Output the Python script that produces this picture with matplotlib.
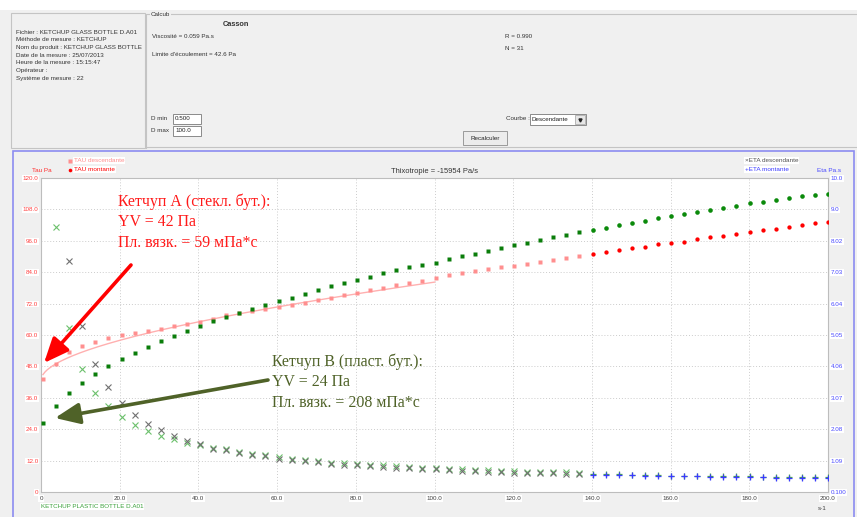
import matplotlib
matplotlib.use("Agg")
import matplotlib.pyplot as plt
from matplotlib.patches import Rectangle, FancyArrowPatch
import numpy as np

W, H = 857, 517

# shear rate grid (s-1)
shear_rate = [0.5, 3.8, 7.2, 10.5, 13.8, 17.1, 20.5, 23.8, 27.1, 30.4,
              33.8, 37.1, 40.4, 43.7, 47.1, 50.4, 53.7, 57.0, 60.4, 63.7,
              67.0, 70.3, 73.7, 77.0, 80.3, 83.6, 87.0, 90.3, 93.6, 96.9,
              100.3, 103.6, 106.9, 110.2, 113.6, 116.9, 120.2, 123.5, 126.9, 130.2,
              133.5, 136.8, 140.2, 143.5, 146.8, 150.1, 153.5, 156.8, 160.1, 163.4,
              166.8, 170.1, 173.4, 176.7, 180.1, 183.4, 186.7, 190.0, 193.4, 196.7,
              200.0]

# shear stress (Pa) - ketchup A (glass bottle)
tau_glass = [43.2, 49.0, 53.4, 55.9, 57.4, 58.7, 59.9, 60.8, 61.5, 62.3,
             63.4, 64.1, 65.0, 66.0, 67.5, 68.3, 69.3, 70.0, 70.7, 71.6,
             72.3, 73.2, 74.1, 75.3, 76.2, 77.1, 78.1, 79.1, 79.7, 80.7,
             81.6, 82.8, 83.6, 84.3, 85.2, 86.0, 86.4, 87.2, 87.9, 88.8,
             89.5, 90.2, 90.9, 91.7, 92.5, 93.1, 93.7, 94.6, 95.1, 95.6,
             96.7, 97.3, 97.9, 98.6, 99.4, 100.0, 100.6, 101.3, 102.0, 102.8,
             103.3]

# shear stress (Pa) - ketchup B (plastic bottle)
tau_plastic = [26.5, 32.7, 37.7, 41.7, 45.0, 48.0, 50.8, 53.1, 55.3, 57.6,
               59.5, 61.5, 63.4, 65.2, 66.7, 68.5, 69.9, 71.3, 72.9, 74.3,
               75.8, 77.1, 78.6, 79.9, 81.1, 82.3, 83.6, 84.8, 86.0, 86.9,
               87.6, 88.9, 90.2, 91.1, 92.1, 93.2, 94.3, 95.1, 96.2, 97.3,
               98.2, 99.2, 100.1, 101.0, 101.9, 102.7, 103.6, 104.6, 105.5, 106.4,
               107.0, 107.9, 108.7, 109.4, 110.3, 110.9, 111.6, 112.2, 113.1, 113.5,
               113.9]

# apparent viscosity (Pa.s); None = above the scale
eta_glass = [None, None, 7.39, 5.33, 4.15, 3.42, 2.92, 2.54, 2.24, 2.05,
             1.87, 1.70, 1.60, 1.47, 1.41, 1.34, 1.27, 1.22, 1.15, 1.11,
             1.07, 1.04, 0.99, 0.96, 0.94, 0.91, 0.90, 0.87, 0.85, 0.83,
             0.81, 0.79, 0.77, 0.75, 0.74, 0.73, 0.71, 0.70, 0.69, 0.69,
             0.68, 0.67, 0.65, 0.65, 0.64, 0.63, 0.62, 0.62, 0.60, 0.59,
             0.59, 0.58, 0.57, 0.57, 0.57, 0.56, 0.55, 0.55, 0.54, 0.54,
             0.54]
eta_plastic = [None, 8.45, 5.26, 3.98, 3.23, 2.80, 2.46, 2.22, 2.02, 1.88,
               1.76, 1.64, 1.58, 1.50, 1.44, 1.37, 1.31, 1.26, 1.19, 1.15,
               1.11, 1.08, 1.03, 1.00, 0.98, 0.95, 0.94, 0.91, 0.89, 0.87,
               0.85, 0.83, 0.81, 0.79, 0.78, 0.77, 0.75, 0.74, 0.73, 0.73,
               0.72, 0.71, 0.67, 0.67, 0.66, 0.65, 0.64, 0.64, 0.62, 0.61,
               0.61, 0.60, 0.59, 0.59, 0.59, 0.58, 0.57, 0.57, 0.56, 0.56,
               0.56]

# first point shown on the rising (montante) curve
montante_from = 42

# Casson model results
casson_tau0 = 42.6
casson_visc = 0.059
d_min, d_max = 0.5, 100.0

tau_ticks = [0, 12, 24, 36, 48, 60, 72, 84, 96, 108, 120]
tau_labels = ["0", "12.0", "24.0", "36.0", "48.0", "60.0", "72.0", "84.0",
              "96.0", "108.0", "120.0"]
eta_ticks = [0.1, 1.09, 2.08, 3.07, 4.06, 5.05, 6.04, 7.03, 8.02, 9.01, 10.0]
eta_labels = ["0.100", "1.09", "2.08", "3.07", "4.06", "5.05", "6.04", "7.03",
              "8.02", "9.0", "10.0"]
x_ticks = [0, 20, 40, 60, 80, 100, 120, 140, 160, 180, 200]
x_labels = ["0", "20.0", "40.0", "60.0", "80.0", "100.0", "120.0", "140.0",
            "160.0", "180.0", "200.0"]

UI = "Liberation Sans"
PINK, RED = "#ff8f8f", "#ff0000"
DKGREEN = "#0a7d0a"
GRAY_X, LTGREEN_X = "#707070", "#6cc06c"
BLUE, GREEN_P = "#3a3aff", "#4aa64a"
OLIVE = "#4f6228"

fig = plt.figure(figsize=(W / 100, H / 100), dpi=100, facecolor="#f0f0f0")

# ---- window background / dialog panel ----
bg = fig.add_axes([0, 0, 1, 1], zorder=0)
bg.set_xlim(0, W)
bg.set_ylim(H, 0)
bg.axis("off")
bg.add_patch(Rectangle((0, 0), W, 10, facecolor="white", edgecolor="none"))
bg.add_patch(Rectangle((11, 13), 134, 135, facecolor="#f0f0f0", edgecolor="#c4c4c4", lw=0.8))
bg.plot([146, 146, W], [148, 14, 14], color="#c4c4c4", lw=0.8)
bg.plot([146, W], [147, 147], color="#c4c4c4", lw=0.8)
bg.text(151, 14.5, "Calcub", fontsize=4.5, family=UI, color="#333333", va="center",
        bbox=dict(facecolor="#f0f0f0", edgecolor="none", pad=0.5))

info = ["Fichier : KETCHUP GLASS BOTTLE D.A01", "Méthode de mesure : KETCHUP",
        "Nom du produit : KETCHUP GLASS BOTTLE", "Date de la mesure : 25/07/2013",
        "Heure de la mesure : 15:15:47", "Opérateur :", "Système de mesure : 22"]
for k, line in enumerate(info):
    bg.text(16, 32 + 7.7 * k, line, fontsize=4.5, family=UI, color="#333333", va="center")

bg.text(236, 24, "Casson", fontsize=5.3, family=UI, weight="bold", color="#333333",
        ha="center", va="center")
bg.text(152, 36.5, f"Viscosité = {casson_visc:.3f} Pa.s", fontsize=4.5, family=UI,
        color="#333333", va="center")
bg.text(152, 54, f"Limite d'écoulement = {casson_tau0:.1f} Pa", fontsize=4.5, family=UI,
        color="#333333", va="center")
bg.text(505, 37, "R = 0.990", fontsize=4.5, family=UI, color="#333333", va="center")
bg.text(505, 48, "N = 31", fontsize=4.5, family=UI, color="#333333", va="center")

bg.text(151, 119, "D min", fontsize=4.5, family=UI, color="#333333", va="center")
bg.text(151, 131, "D max", fontsize=4.5, family=UI, color="#333333", va="center")
for yb, txt in [(114, f"{d_min:.3f}"), (126, f"{d_max:.1f}")]:
    bg.add_patch(Rectangle((173, yb), 28, 10, facecolor="white", edgecolor="#8a8a8a", lw=0.7))
    bg.text(175, yb + 5, txt, fontsize=4.5, family=UI, color="#222222", va="center")

bg.text(506, 118.5, "Courbe :", fontsize=4.5, family=UI, color="#333333", va="center")
bg.add_patch(Rectangle((530, 114), 56, 10.5, facecolor="white", edgecolor="#8a8a8a", lw=0.7))
bg.add_patch(Rectangle((575, 115), 10, 8.5, facecolor="#e6e6e6", edgecolor="#a0a0a0", lw=0.5))
bg.plot([580], [119.5], marker="v", ms=2.2, color="#222222")
bg.text(532, 119.3, "Descendante", fontsize=4.5, family=UI, color="#222222", va="center")
bg.add_patch(Rectangle((463, 131), 44, 14, facecolor="#ececec", edgecolor="#9a9a9a", lw=0.7))
bg.text(485, 138, "Recalculer", fontsize=4.5, family=UI, color="#222222",
        ha="center", va="center")

# chart panel frame
bg.add_patch(Rectangle((13, 151), 841, 370, facecolor="#f0f0f0", edgecolor="#8c8cf0", lw=1.2))

# ---- main chart ----
L, R, T, B = 41, 828, 178, 492
ax = fig.add_axes([L / W, 1 - B / H, (R - L) / W, (B - T) / H], zorder=2)
ax.set_facecolor("white")
ax.set_xlim(0, 200)
ax.set_ylim(0, 120)
ax.set_xticks(x_ticks, labels=x_labels)
ax.set_yticks(tau_ticks, labels=tau_labels)
ax.tick_params(axis="x", length=0, pad=3, labelsize=4.5, labelcolor="#404040")
ax.tick_params(axis="y", length=0, pad=2, labelsize=4.5, labelcolor="#ff4040")
for lab in ax.get_xticklabels() + ax.get_yticklabels():
    lab.set_fontfamily(UI)
    lab.set_bbox(dict(facecolor="white", edgecolor="none", pad=0.6))
ax.grid(True, color="#cccccc", linestyle=(0, (1, 2)), linewidth=0.7)
for side, sp in ax.spines.items():
    sp.set_color("#bdbdbd")
    sp.set_linewidth(0.8)

x = np.array(shear_rate)
tg = np.array(tau_glass)
tp = np.array(tau_plastic)
m = montante_from

# Casson fit over the calculation range
g_fit = np.linspace(d_min, d_max, 200)
tau_fit = (np.sqrt(casson_tau0) + np.sqrt(casson_visc * g_fit)) ** 2
ax.plot(g_fit, tau_fit, color="#ffb0b0", lw=1.0, zorder=2)

ax.plot(x[:m], tg[:m], "s", ms=3.0, color=PINK, mec="none", zorder=3)
ax.plot(x[m:], tg[m:], "o", ms=3.1, color=RED, mec="none", zorder=3)
ax.plot(x[:m], tp[:m], "s", ms=3.3, color=DKGREEN, mec="none", zorder=3)
ax.plot(x[m:], tp[m:], "o", ms=3.3, color="#0b8a0b", mec="none", zorder=3)

ax2 = ax.twinx()
ax2.set_zorder(3)
ax2.patch.set_visible(False)
ax2.set_ylim(0.1, 10.0)
ax2.set_yticks(eta_ticks, labels=eta_labels)
ax2.tick_params(axis="y", length=0, pad=2, labelsize=4.5, labelcolor="#4848ff")
for lab in ax2.get_yticklabels():
    lab.set_fontfamily(UI)
    lab.set_bbox(dict(facecolor="white", edgecolor="none", pad=0.6))
for sp in ax2.spines.values():
    sp.set_visible(False)

eg = np.array([np.nan if v is None else v for v in eta_glass], dtype=float)
ep = np.array([np.nan if v is None else v for v in eta_plastic], dtype=float)
ax2.plot(x[:m], ep[:m], "x", ms=4.4, mew=0.8, color=LTGREEN_X, zorder=3)
ax2.plot(x[:m], eg[:m], "x", ms=4.4, mew=0.8, color=GRAY_X, zorder=4)
ax2.plot(x[m:], ep[m:], "+", ms=4.6, mew=0.9, color=GREEN_P, zorder=3)
ax2.plot(x[m:], eg[m:], "+", ms=4.6, mew=0.9, color=BLUE, zorder=4)

# ---- overlay: legend, titles, annotations ----
top = fig.add_axes([0, 0, 1, 1], zorder=10)
top.set_xlim(0, W)
top.set_ylim(H, 0)
top.axis("off")
top.patch.set_visible(False)

wbox = dict(facecolor="white", edgecolor="none", pad=0.5)
top.plot([70], [160.5], "s", ms=2.6, color=PINK, mec="none")
top.text(74, 160.5, "TAU descendante", fontsize=4.6, family=UI, color=PINK, va="center", bbox=wbox)
top.plot([70], [169.5], "o", ms=2.6, color=RED, mec="none")
top.text(74, 169.5, "TAU montante", fontsize=4.6, family=UI, color=RED, va="center", bbox=wbox)
top.text(32, 170.5, "Tau Pa", fontsize=4.6, family=UI, color="#ff3030", va="center")

top.text(745, 160.5, "\u00d7ETA descendante", fontsize=4.6, family=UI, color="#505050",
         va="center", bbox=wbox)
top.text(745, 169.5, "+ETA montante", fontsize=4.6, family=UI, color=BLUE,
         va="center", bbox=wbox)
top.text(817, 170.5, "Eta Pa.s", fontsize=4.6, family=UI, color="#4848ff", va="center")

top.text(435, 171.5, "Thixotropie = -15954 Pa/s", fontsize=5.4, family=UI,
         color="#333333", ha="center", va="center")
top.text(818, 508, "s-1", fontsize=4.5, family=UI, color="#404040", va="center")
top.text(41, 506.5, "KETCHUP PLASTIC BOTTLE D.A01", fontsize=4.5, family=UI,
         color="#3aa03a", va="center", bbox=wbox)

top.text(118, 193, "Кетчуп А (стекл. бут.):\nYV = 42 Па\nПл. вязк. = 59 мПа*с",
         fontsize=11.4, family="Liberation Serif", color="#ff1a1a", va="top",
         linespacing=1.38)
top.text(272, 353, "Кетчуп B (пласт. бут.):\nYV = 24 Па\nПл. вязк. = 208 мПа*с",
         fontsize=11.4, family="Liberation Serif", color=OLIVE, va="top",
         linespacing=1.38)

for (x0, y0), (x1, y1), col in [((131, 265), (44, 363), "#ff0000"),
                                 ((268, 380), (55, 418), OLIVE)]:
    top.add_patch(FancyArrowPatch((x0, y0), (x1, y1),
                                  arrowstyle="-|>,head_length=0.75,head_width=0.32",
                                  mutation_scale=20, lw=2.6, color=col,
                                  shrinkA=0, shrinkB=0))

fig.savefig("out.png", dpi=100, facecolor=fig.get_facecolor())
